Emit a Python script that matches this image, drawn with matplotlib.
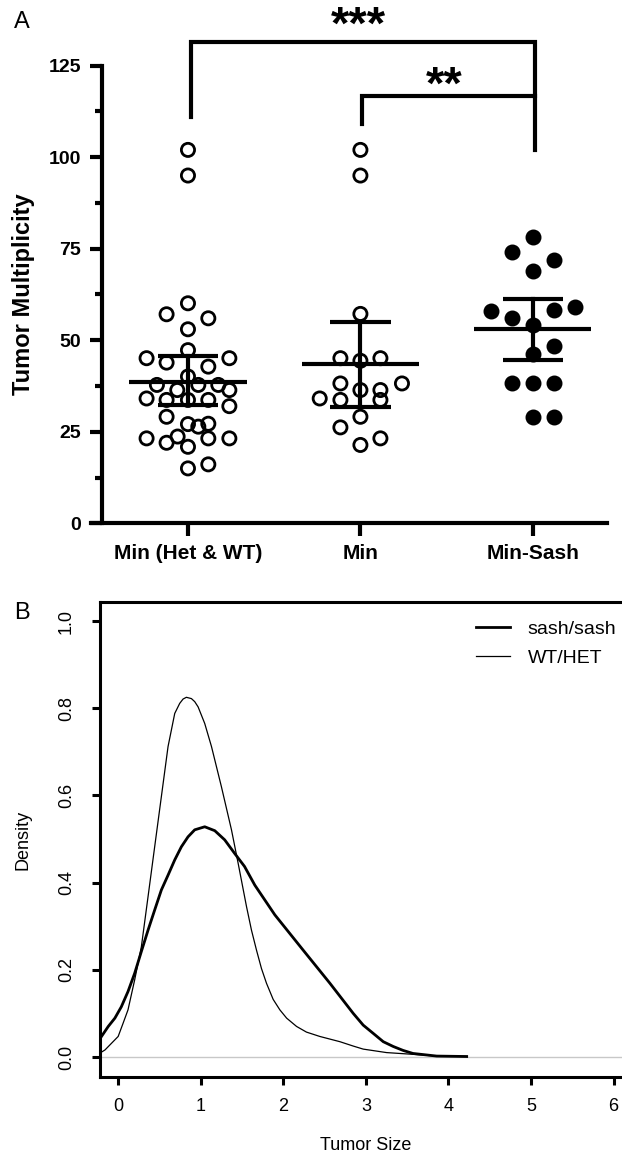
import matplotlib
matplotlib.use("Agg")
import matplotlib.pyplot as plt
import numpy as np
from matplotlib.ticker import MultipleLocator

plt.rcParams["font.family"] = ["Liberation Sans", "DejaVu Sans"]

# panel A: tumor multiplicity per mouse
groups = ["Min (Het & WT)", "Min", "Min-Sash"]
het_wt = [102.0, 95.0, 60.1, 57.1, 56.0, 53.0, 47.3, 45.1, 45.1, 43.9, 42.8, 40.1,
          37.8, 37.8, 37.8, 36.4, 36.4, 34.1, 33.7, 33.7, 33.7, 32.0, 29.1, 27.1,
          27.2, 26.4, 23.2, 22.0, 23.7, 23.2, 23.2, 20.9, 15.0, 16.1]
het_wt_dx = [0, 0, 0, -0.124, 0.118, 0, 0, -0.24, 0.24, -0.124, 0.118, 0,
             -0.18, 0.06, 0.176, -0.062, 0.24, -0.24, -0.124, 0, 0.118, 0.24, -0.124, 0,
             0.118, 0.06, -0.24, -0.124, -0.06, 0.118, 0.24, 0, 0, 0.118]
min_only = [102.0, 95.0, 57.2, 45.1, 44.4, 45.1, 38.2, 38.2, 36.4, 36.4, 34.1,
            33.7, 33.7, 29.1, 26.2, 23.2, 21.4]
min_only_dx = [0, 0, 0, -0.116, 0, 0.116, 0.241, -0.116, 0, 0.116, -0.236,
               -0.116, 0.116, 0, -0.116, 0.116, 0]
min_sash = [78.1, 74.0, 71.9, 69.0, 58.1, 59.0, 58.3, 56.0, 54.2, 48.3, 46.3,
            38.2, 38.2, 38.2, 29.1, 29.1]
min_sash_dx = [0, -0.12, 0.12, 0, -0.242, 0.242, 0.12, -0.12, 0, 0.12, 0,
               -0.12, 0, 0.12, 0, 0.12]
centres = [38.7, 43.5, 53.0]
upper = [45.6, 54.9, 61.2]
lower = [32.2, 31.7, 44.6]

# panel B: density curves of tumor size
wt_x = [-0.22, -0.16, 0.0, 0.059, 0.119, 0.20, 0.281, 0.362, 0.442, 0.523, 0.604,
        0.685, 0.745, 0.786, 0.826, 0.887, 0.927, 0.968, 1.048, 1.13, 1.25, 1.372,
        1.452, 1.554, 1.614, 1.675, 1.735, 1.796, 1.877, 1.958, 2.04, 2.16, 2.28,
        2.442, 2.685, 2.846, 2.967, 3.25, 3.57, 3.857, 4.22]
wt_y = [0.009, 0.016, 0.047, 0.077, 0.108, 0.177, 0.253, 0.368, 0.482, 0.597, 0.712,
        0.788, 0.811, 0.821, 0.825, 0.822, 0.815, 0.803, 0.765, 0.712, 0.62, 0.521,
        0.445, 0.345, 0.291, 0.245, 0.203, 0.169, 0.132, 0.108, 0.089, 0.07, 0.057,
        0.047, 0.035, 0.025, 0.018, 0.01, 0.006, 0.002, 0.001]
sash_x = [-0.22, -0.12, -0.04, 0.038, 0.119, 0.20, 0.281, 0.362, 0.442, 0.523, 0.604,
          0.685, 0.765, 0.846, 0.927, 1.048, 1.17, 1.29, 1.41, 1.53, 1.655, 1.776,
          1.897, 2.24, 2.564, 2.846, 2.967, 3.089, 3.21, 3.331, 3.45, 3.57, 3.857, 4.22]
sash_y = [0.042, 0.07, 0.089, 0.115, 0.15, 0.192, 0.242, 0.291, 0.337, 0.383, 0.417,
          0.452, 0.482, 0.505, 0.521, 0.528, 0.519, 0.498, 0.467, 0.437, 0.394, 0.36,
          0.326, 0.245, 0.169, 0.10, 0.073, 0.054, 0.035, 0.024, 0.015, 0.008, 0.002,
          0.001]

W, H = 622, 1159
fig = plt.figure(figsize=(W / 100, H / 100), dpi=100)

# ---------------- panel A ----------------
ax = fig.add_axes([91.4 / W, 1 - 523.3 / H, 515.6 / W, 457.6 / H])
ax.set_xlim(-0.56, 2.43)
ax.set_ylim(0, 125)

data = [(het_wt, het_wt_dx, "none"), (min_only, min_only_dx, "none"),
        (min_sash, min_sash_dx, "black")]
for i, (vals, dx, fc) in enumerate(data):
    ax.scatter(i + np.array(dx), vals, s=90, facecolors=fc, edgecolors="black",
               linewidths=2.0, zorder=3, clip_on=False)
    ax.plot([i - 0.34, i + 0.34], [centres[i]] * 2, color="black", lw=3, zorder=4,
            solid_capstyle="butt")
    ax.plot([i, i], [lower[i], upper[i]], color="black", lw=3, zorder=4)
    for v in (lower[i], upper[i]):
        ax.plot([i - 0.175, i + 0.175], [v, v], color="black", lw=3, zorder=4,
                solid_capstyle="butt")

# significance brackets
kw = dict(color="black", lw=3, clip_on=False, solid_joinstyle="miter")
ax.plot([0.02, 0.02, 2.01, 2.01], [111.0, 131.6, 131.6, 102.0], **kw)
ax.plot([1.01, 1.01, 2.01], [109.1, 116.6, 116.6], **kw)
ax.text(0.99, 132.4, "***", ha="center", va="baseline", fontsize=34, fontweight="bold")
ax.text(1.484, 116.0, "**", ha="center", va="baseline", fontsize=34, fontweight="bold")

for s in ("top", "right"):
    ax.spines[s].set_visible(False)
ax.spines["left"].set_position(("data", -0.5))
ax.spines["left"].set_bounds(0, 125)
for s in ("left", "bottom"):
    ax.spines[s].set_linewidth(3)
ax.yaxis.set_major_locator(MultipleLocator(25))
ax.yaxis.set_minor_locator(MultipleLocator(12.5))
ax.set_xticks([0, 1, 2])
ax.set_xticklabels(groups)
ax.tick_params(axis="both", which="major", width=3, length=9, labelsize=14, pad=6)
ax.tick_params(axis="x", labelsize=15)
ax.tick_params(axis="y", which="minor", width=3, length=5)
for t in ax.get_xticklabels() + ax.get_yticklabels():
    t.set_fontweight("bold")
ax.set_ylabel("Tumor Multiplicity", fontsize=17, fontweight="bold")
ax.yaxis.set_label_coords(-0.11, 0.5)
fig.text(22 / W, 1 - 22 / H, "A", fontsize=17, ha="center", va="center")

# ---------------- panel B ----------------
bx = fig.add_axes([100 / W, 1 - 1077 / H, 550 / W, 475 / H])
bx.set_xlim(-0.22, 6.44)
bx.set_ylim(-0.046, 1.0436)
bx.axhline(0, color="#c8c8c8", lw=1, zorder=1)
bx.plot(sash_x, sash_y, color="black", lw=2.0, label="sash/sash")
bx.plot(wt_x, wt_y, color="black", lw=0.9, label="WT/HET")
for s in bx.spines.values():
    s.set_linewidth(2.2)
bx.set_xticks(range(0, 7))
bx.set_yticks([0.0, 0.2, 0.4, 0.6, 0.8, 1.0])
bx.set_yticklabels(["0.0", "0.2", "0.4", "0.6", "0.8", "1.0"])
bx.tick_params(axis="both", width=2.2, length=6, labelsize=13)
bx.tick_params(axis="x", pad=9)
bx.tick_params(axis="y", pad=12)
for t in bx.get_yticklabels():
    t.set_rotation(90)
    t.set_va("center")
bx.set_ylabel("Density", fontsize=13)
bx.yaxis.set_label_coords(-0.125, 0.5)
fig.text(366 / W, 1 - 1145 / H, "Tumor Size", fontsize=13, ha="center", va="center")
bx.legend(loc="upper left", bbox_to_anchor=(0.684, 0.962), frameon=False, fontsize=14,
          handlelength=1.75, handletextpad=0.9, labelspacing=0.6, borderpad=0,
          borderaxespad=0)
fig.text(22 / W, 1 - 613 / H, "B", fontsize=17, ha="center", va="center")

fig.savefig("out.png", dpi=100)
